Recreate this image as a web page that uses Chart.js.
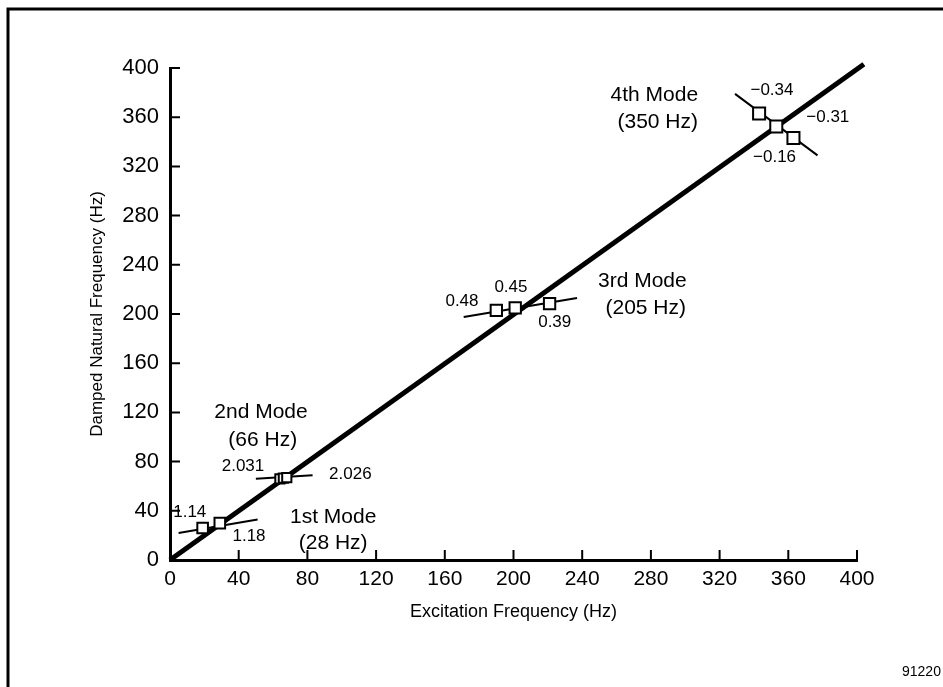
<!DOCTYPE html>
<html lang="en">
<head>
    <meta charset="UTF-8">
    <title>Damped Natural Frequency vs Excitation Frequency</title>
    <script src="https://cdn.jsdelivr.net/npm/chart.js"></script>
    <style>
        html, body {
            margin: 0;
            padding: 0;
            background: #fff;
        }
        .chart-container {
            position: relative;
            width: 943px;
            height: 687px;
        }
    </style>
</head>
<body>
    <div class="chart-container">
        <canvas id="grafico"></canvas>
    </div>

    <script>
        // tick values (both axes)
        const tickValues = [0, 40, 80, 120, 160, 200, 240, 280, 320, 360, 400];

        // 1:1 reference line
        const diagonalX = [0, 404];
        const diagonalY = [0, 403];

        // measured points per mode
        const mode1X = [19, 29];
        const mode1Y = [26, 30];
        const mode2X = [64, 66, 68];
        const mode2Y = [66, 66.5, 67];
        const mode3X = [190, 201, 221];
        const mode3Y = [203, 205, 208.5];
        const mode4X = [343, 353, 363];
        const mode4Y = [363, 352.5, 343];

        // slope lines through each group
        const slope1X = [5, 51];
        const slope1Y = [22, 33];
        const slope2X = [50, 83];
        const slope2Y = [66, 69];
        const slope3X = [171, 237];
        const slope3Y = [197.5, 213];
        const slope4X = [329, 377];
        const slope4Y = [379, 329];

        // mode captions
        const modeText = ['1st Mode', '(28 Hz)', '2nd Mode', '(66 Hz)', '3rd Mode', '(205 Hz)', '4th Mode', '(350 Hz)'];
        const modeTextX = [95, 95, 53, 54, 275, 277, 282, 284];
        const modeTextY = [35, 14, 120, 97.5, 227, 205, 378, 356];

        // damping values next to the points
        const valueText = ['1.14', '1.18', '2.031', '2.026', '0.48', '0.45', '0.39', '\u22120.34', '\u22120.31', '\u22120.16'];
        const valueTextX = [11.5, 46, 42.5, 105, 170, 198.5, 224, 350.5, 383, 352];
        const valueTextY = [39, 19.5, 76.5, 70, 210.5, 222, 193.5, 382, 360, 327.5];

        const toPoints = (xs, ys) => xs.map((x, i) => ({ x: x, y: ys[i] }));
        const FONT = "'Liberation Sans', Arial, sans-serif";

        function markerSet(xs, ys, r) {
            return {
                data: toPoints(xs, ys),
                showLine: false,
                pointStyle: 'rect',
                pointRadius: r,
                pointBackgroundColor: '#fff',
                pointBorderColor: '#000',
                pointBorderWidth: 2,
                clip: false
            };
        }

        function lineSet(xs, ys, w) {
            return {
                data: toPoints(xs, ys),
                showLine: true,
                borderColor: '#000',
                borderWidth: w,
                pointRadius: 0,
                clip: false
            };
        }

        // figure extras: frame, inward ticks, annotations
        const figurePlugin = {
            id: 'figurePlugin',
            beforeDraw(chart) {
                const c = chart.ctx;
                c.save();
                c.fillStyle = '#fff';
                c.fillRect(0, 0, chart.width, chart.height);
                c.strokeStyle = '#000';
                c.lineWidth = 3;
                c.beginPath();
                c.moveTo(8, chart.height);
                c.lineTo(8, 9);
                c.lineTo(chart.width, 9);
                c.stroke();
                c.restore();
            },
            afterDraw(chart) {
                const c = chart.ctx;
                const xs = chart.scales.x;
                const ys = chart.scales.y;
                c.save();
                c.strokeStyle = '#000';
                c.lineWidth = 2;
                tickValues.forEach(v => {
                    const px = xs.getPixelForValue(v);
                    const py = ys.getPixelForValue(v);
                    c.beginPath();
                    c.moveTo(px, ys.bottom);
                    c.lineTo(px, ys.bottom - 10);
                    c.moveTo(xs.left, py);
                    c.lineTo(xs.left + 10, py);
                    c.stroke();
                });

                c.fillStyle = '#000';
                c.textAlign = 'center';
                c.textBaseline = 'middle';
                c.font = '21px ' + FONT;
                modeText.forEach((t, i) => {
                    c.fillText(t, xs.getPixelForValue(modeTextX[i]), ys.getPixelForValue(modeTextY[i]));
                });
                c.font = '17px ' + FONT;
                valueText.forEach((t, i) => {
                    c.fillText(t, xs.getPixelForValue(valueTextX[i]), ys.getPixelForValue(valueTextY[i]));
                });

                c.font = '14px ' + FONT;
                c.textAlign = 'left';
                c.fillText('91220', 902, 672);
                c.restore();
            }
        };

        const ctx = document.getElementById('grafico').getContext('2d');

        new Chart(ctx, {
            type: 'scatter',
            data: {
                datasets: [
                    markerSet(mode1X, mode1Y, 7.5),
                    markerSet(mode2X, mode2Y, 6.5),
                    markerSet(mode3X, mode3Y, 8),
                    markerSet(mode4X, mode4Y, 8.5),
                    lineSet(slope1X, slope1Y, 2),
                    lineSet(slope2X, slope2Y, 2),
                    lineSet(slope3X, slope3Y, 2),
                    lineSet(slope4X, slope4Y, 2),
                    lineSet(diagonalX, diagonalY, 5)
                ]
            },
            options: {
                responsive: true,
                maintainAspectRatio: false,
                animation: false,
                layout: {
                    padding: { top: 68, right: 86, bottom: 0, left: 0 }
                },
                plugins: {
                    legend: { display: false },
                    tooltip: { enabled: false }
                },
                scales: {
                    x: {
                        type: 'linear',
                        min: 0,
                        max: 400,
                        afterBuildTicks: s => { s.ticks = tickValues.map(v => ({ value: v })); },
                        afterFit: s => { s.height = 127; },
                        grid: { display: false, drawTicks: false },
                        border: { display: true, width: 3, color: '#000' },
                        ticks: {
                            color: '#000',
                            font: { family: FONT, size: 21 },
                            padding: 7,
                            maxRotation: 0
                        },
                        title: {
                            display: true,
                            text: 'Excitation Frequency (Hz)',
                            color: '#000',
                            font: { family: FONT, size: 18 },
                            padding: { top: 0, bottom: 64 }
                        }
                    },
                    y: {
                        type: 'linear',
                        min: 0,
                        max: 400,
                        afterBuildTicks: s => { s.ticks = tickValues.map(v => ({ value: v })); },
                        afterFit: s => { s.width = 170; },
                        grid: { display: false, drawTicks: false },
                        border: { display: true, width: 3, color: '#000' },
                        ticks: {
                            color: '#000',
                            font: { family: FONT, size: 22 },
                            padding: 11
                        },
                        title: {
                            display: true,
                            text: 'Damped Natural Frequency (Hz)',
                            color: '#000',
                            font: { family: FONT, size: 17 },
                            padding: { top: 87, bottom: 0 }
                        }
                    }
                }
            },
            plugins: [figurePlugin]
        });
    </script>
</body>
</html>
